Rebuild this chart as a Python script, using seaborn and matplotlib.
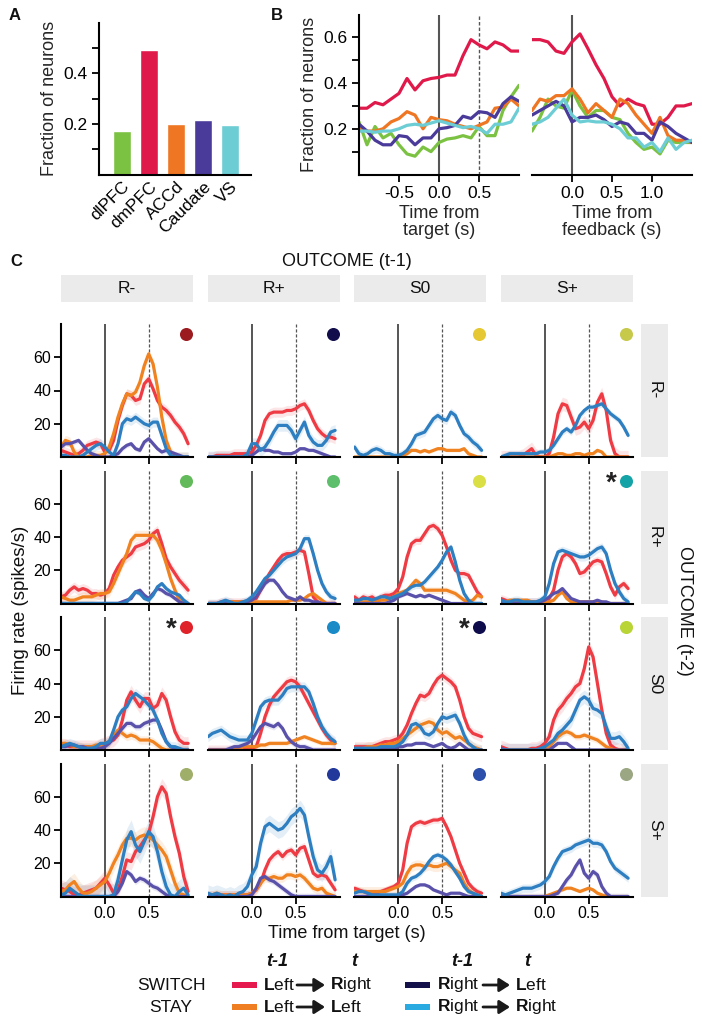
import numpy as np
import matplotlib
matplotlib.use("Agg")
import matplotlib.pyplot as plt
import seaborn as sns
from matplotlib.patches import Rectangle, FancyArrowPatch

# ---------------- DATA ----------------
# Panel A
regions = ["dlPFC", "dmPFC", "ACCd", "Caudate", "VS"]
frac_neurons = [0.17, 0.49, 0.20, 0.215, 0.195]
region_colors = ["#7cc242", "#e0194b", "#ef7622", "#4a3a99", "#6ccdd4"]

# Panel B (0.1 s bins)
t_target = np.round(np.arange(-1.0, 1.001, 0.1), 2)
t_feedback = np.round(np.arange(-0.5, 1.501, 0.1), 2)
tgt_dlPFC = [0.23, 0.13, 0.21, 0.16, 0.18, 0.13, 0.09, 0.08, 0.12, 0.10, 0.14, 0.155, 0.16, 0.17, 0.16, 0.21, 0.17, 0.17, 0.28, 0.34, 0.39]
tgt_dmPFC = [0.29, 0.29, 0.315, 0.305, 0.33, 0.355, 0.42, 0.37, 0.41, 0.42, 0.425, 0.435, 0.435, 0.52, 0.59, 0.567, 0.55, 0.58, 0.567, 0.54, 0.54]
tgt_ACCd = [0.20, 0.19, 0.19, 0.20, 0.23, 0.245, 0.275, 0.26, 0.20, 0.25, 0.24, 0.235, 0.22, 0.21, 0.20, 0.215, 0.23, 0.29, 0.295, 0.33, 0.30]
tgt_Caudate = [0.22, 0.19, 0.15, 0.13, 0.13, 0.17, 0.165, 0.13, 0.16, 0.16, 0.20, 0.205, 0.215, 0.255, 0.245, 0.275, 0.27, 0.25, 0.31, 0.34, 0.32]
tgt_VS = [0.19, 0.19, 0.185, 0.19, 0.19, 0.20, 0.215, 0.22, 0.215, 0.225, 0.235, 0.225, 0.215, 0.205, 0.21, 0.20, 0.18, 0.22, 0.22, 0.23, 0.29]
fb_dlPFC = [0.19, 0.25, 0.33, 0.30, 0.29, 0.37, 0.30, 0.25, 0.28, 0.28, 0.25, 0.24, 0.18, 0.14, 0.11, 0.12, 0.09, 0.15, 0.14, 0.14, 0.14]
fb_dmPFC = [0.59, 0.59, 0.58, 0.54, 0.53, 0.58, 0.615, 0.55, 0.48, 0.42, 0.34, 0.30, 0.33, 0.31, 0.30, 0.22, 0.22, 0.25, 0.30, 0.30, 0.31]
fb_ACCd = [0.28, 0.33, 0.32, 0.345, 0.345, 0.375, 0.33, 0.27, 0.31, 0.28, 0.25, 0.33, 0.31, 0.26, 0.22, 0.18, 0.25, 0.17, 0.15, 0.15, 0.14]
fb_Caudate = [0.26, 0.28, 0.30, 0.32, 0.30, 0.23, 0.25, 0.25, 0.26, 0.24, 0.21, 0.23, 0.22, 0.18, 0.18, 0.15, 0.23, 0.21, 0.18, 0.16, 0.14]
fb_VS = [0.22, 0.23, 0.25, 0.29, 0.33, 0.26, 0.23, 0.235, 0.23, 0.23, 0.22, 0.20, 0.16, 0.16, 0.12, 0.14, 0.10, 0.16, 0.11, 0.14, 0.15]

# Panel C (0.05 s bins from -0.5 to 0.95 s); rows = outcome t-2, cols = outcome t-1
t_grid = np.round(np.arange(-0.5, 0.951, 0.05), 2)
outcome_labels = ["R-", "R+", "S0", "S+"]
# LR: Left->Right (switch), LL: Left->Left (stay), RL: Right->Left (switch), RR: Right->Right (stay)
fr_Rm_Rm_LR = [4,3,2,1,2,4,7,8,9,8,3,4,10,22,31,38,37,34,35,44,47,41,34,30,28,25,21,18,14,8]
fr_Rm_Rm_LL = [6,10,9,3,0,0,0,1,1,1,2,6,14,24,32,38,37,39,45,55,62,56,42,24,10,3,0,0,0,0]
fr_Rm_Rm_RL = [6,8,8,9,10,7,4,2,1,0,0,0,1,2,5,7,8,5,4,9,11,8,5,3,4,3,2,1,0,0]
fr_Rm_Rm_RR = [1,1,0,0,0,1,3,5,7,8,6,3,1,8,20,23,22,24,22,20,19,21,21,13,5,1,0,0,0,0]

fr_Rm_Rp_LR = [0,0,1,1,1,1,2,2,2,2,3,7,13,22,26,27,27,27,28,28,29,31,32,28,22,17,14,12,12,11]
fr_Rm_Rp_LL = None
fr_Rm_Rp_RL = [0,0,0,0,0,0,0,0,0,0,1,3,5,4,4,3,3,2,2,2,3,5,5,4,4,3,2,1,0,0]
fr_Rm_Rp_RR = [0,0,0,0,0,0,0,0,0,2,8,8,4,6,10,15,19,19,19,16,11,16,21,13,9,7,7,10,15,16]

fr_Rm_S0_LR = None
fr_Rm_S0_LL = [0,0,0,0,0,0,0,0,0,0,0,1,2,4,4,3,4,3,4,5,5,4,4,4,4,5,2,1,0,0]
fr_Rm_S0_RL = None
fr_Rm_S0_RR = [6,2,1,2,4,5,4,2,2,1,1,2,4,8,13,14,15,19,23,25,23,22,27,25,19,14,12,9,7,4]

fr_Rm_Sp_LR = [0,0,0,0,0,1,3,5,1,0,0,2,12,26,32,31,24,17,18,21,17,22,33,38,28,10,2,0,0,0]
fr_Rm_Sp_LL = [0,0,0,0,0,0,0,0,0,0,0,0,1,2,2,1,1,2,2,1,2,2,4,3,0,0,0,0,0,0]
fr_Rm_Sp_RL = None
fr_Rm_Sp_RR = [0,1,2,2,2,2,2,2,2,3,3,4,7,11,15,17,15,19,25,28,30,30,31,32,29,26,24,22,18,13]

fr_Rp_Rm_LR = [4,5,8,10,8,9,8,6,6,5,6,9,17,22,26,28,30,34,35,36,38,42,44,36,27,22,18,14,11,8]
fr_Rp_Rm_LL = [4,3,2,2,3,4,4,4,5,6,6,7,12,18,24,30,38,41,41,41,41,41,38,32,24,15,8,2,0,0]
fr_Rp_Rm_RL = [0,0,0,0,0,0,0,0,0,0,0,0,0,0,1,2,3,7,8,5,3,6,9,8,6,5,3,1,0,0]
fr_Rp_Rm_RR = [0,0,0,0,0,0,0,0,0,0,0,0,0,0,0,1,4,7,6,3,2,5,10,12,9,7,6,5,2,0]

fr_Rp_Rp_LR = [0,0,0,1,1,1,1,1,1,1,2,3,8,13,18,22,26,29,30,30,31,32,31,18,4,1,0,0,0,0]
fr_Rp_Rp_LL = [0,0,0,0,1,1,1,1,1,1,1,1,1,1,1,1,1,1,1,2,2,2,3,5,6,4,2,0,0,0]
fr_Rp_Rp_RL = [0,0,0,0,0,0,0,0,0,1,2,4,8,12,14,14,11,7,4,3,2,4,2,2,1,1,0,0,0,0]
fr_Rp_Rp_RR = [0,0,0,1,2,1,0,0,1,2,4,7,11,15,17,20,23,26,28,29,30,33,39,39,30,20,12,7,4,3]

fr_Rp_S0_LR = [4,2,4,3,4,2,4,5,5,6,9,16,28,36,38,38,42,46,47,45,41,34,26,20,18,18,17,12,7,4]
fr_Rp_S0_LL = [1,1,1,1,1,1,2,2,3,4,6,7,8,11,14,12,8,8,8,8,8,8,7,6,4,2,1,2,5,4]
fr_Rp_S0_RL = [0,0,0,0,0,0,0,0,1,2,4,5,6,5,4,5,4,5,4,3,2,1,0,0,0,0,0,0,0,0]
fr_Rp_S0_RR = [2,2,3,3,2,3,4,4,3,4,5,6,8,10,11,11,13,16,19,22,26,31,34,25,14,6,2,0,0,0]

fr_Rp_Sp_LR = [3,2,1,1,1,1,1,1,1,1,1,3,8,20,28,30,28,24,18,19,22,25,26,25,18,10,5,10,12,9]
fr_Rp_Sp_LL = [1,1,2,2,2,2,2,1,1,1,1,1,2,5,7,3,1,1,1,1,1,1,1,1,0,0,0,0,0,0]
fr_Rp_Sp_RL = [0,0,0,0,0,0,0,0,0,1,2,4,6,7,9,6,3,2,1,1,1,1,2,1,1,0,0,0,0,0]
fr_Rp_Sp_RR = [2,1,1,2,2,1,1,1,1,2,4,12,24,31,32,31,30,29,28,28,29,31,33,34,30,20,12,7,3,1]

fr_S0_Rm_LR = [3,3,2,2,2,2,2,2,2,3,4,5,6,9,18,30,35,30,26,31,31,25,27,34,30,20,11,6,4,4]
fr_S0_Rm_LL = [4,4,3,2,2,2,2,2,3,3,4,5,9,12,10,8,9,8,6,6,6,5,3,1,0,0,0,0,0,0]
fr_S0_Rm_RL = [2,2,3,3,2,2,1,1,1,1,2,4,7,10,13,16,16,14,14,16,17,18,18,12,5,2,1,0,0,0]
fr_S0_Rm_RR = [2,3,4,3,2,1,1,1,2,4,4,5,12,20,24,26,31,34,32,30,27,24,18,10,5,2,2,1,0,0]

fr_S0_Rp_LR = [0,0,0,0,0,0,0,0,0,1,1,2,10,20,27,32,35,38,41,42,41,38,33,28,23,18,13,9,6,4]
fr_S0_Rp_LL = [0,0,0,0,0,0,1,1,2,2,2,2,3,3,4,4,4,4,4,5,6,7,8,7,6,5,4,4,4,4]
fr_S0_Rp_RL = [0,0,0,0,0,1,2,2,3,4,6,10,14,16,15,14,16,13,8,5,3,2,2,1,0,0,0,0,0,0]
fr_S0_Rp_RR = [8,10,11,12,10,8,7,6,6,6,10,18,26,29,30,30,30,33,37,38,38,38,38,35,28,20,14,10,7,5]

fr_S0_S0_LR = [2,2,2,2,2,3,4,5,5,6,7,10,15,22,28,33,32,34,39,43,45,43,41,38,30,20,13,10,9,8]
fr_S0_S0_LL = [1,1,1,2,2,2,3,3,4,4,5,7,9,11,13,15,16,17,16,12,10,11,9,7,8,6,4,2,1,0]
fr_S0_S0_RL = [1,1,1,1,1,1,1,1,1,1,2,2,3,3,4,4,4,3,2,3,4,2,1,2,4,2,0,0,0,0]
fr_S0_S0_RR = [1,1,1,1,1,1,2,2,2,2,3,5,9,15,16,14,10,9,11,16,20,19,20,21,16,9,4,2,0,0]

fr_S0_Sp_LR = [2,1,0,0,0,0,0,1,1,2,4,8,18,24,27,31,34,38,40,49,62,56,40,24,10,3,1,0,0,0]
fr_S0_Sp_LL = [0,0,0,0,0,0,0,0,0,0,0,2,5,8,10,11,10,8,8,9,8,7,6,4,2,1,0,0,0,0]
fr_S0_Sp_RL = [1,0,0,0,0,0,0,0,0,0,0,0,2,4,4,4,2,0,0,0,0,0,0,0,0,0,0,0,0,0]
fr_S0_Sp_RR = [0,0,0,0,0,0,0,0,0,1,2,4,6,10,12,15,18,24,30,32,30,25,24,22,14,7,7,8,5,1]

fr_Sp_Rm_LR = [5,4,3,1,1,2,3,4,5,8,11,7,2,4,12,22,21,27,30,34,38,48,60,66,62,48,36,26,12,3]
fr_Sp_Rm_LL = [3,4,7,9,5,2,2,3,5,7,9,14,20,25,31,35,35,34,36,37,36,34,31,28,24,16,8,2,1,0]
fr_Sp_Rm_RL = [0,0,0,0,0,0,0,0,0,0,0,0,0,3,8,15,13,9,11,10,8,6,5,3,1,0,0,0,0,0]
fr_Sp_Rm_RR = [1,2,5,3,1,0,0,0,0,0,0,0,1,10,22,34,39,31,27,33,39,36,27,15,6,1,0,3,5,1]

fr_Sp_Rp_LR = [1,1,1,1,1,1,1,1,1,1,2,4,8,16,22,25,27,24,27,28,25,29,30,22,14,12,13,12,8,4]
fr_Sp_Rp_LL = [1,1,2,1,1,1,1,1,1,1,2,4,8,11,11,12,11,11,13,13,12,13,11,8,5,4,5,2,1,0]
fr_Sp_Rp_RL = [0,0,0,0,0,0,0,0,0,0,1,5,11,12,10,9,7,5,3,1,0,0,0,0,0,0,0,0,0,0]
fr_Sp_Rp_RR = [2,1,2,1,0,1,0,2,3,6,13,18,32,42,44,42,40,41,44,48,50,53,49,36,24,16,14,18,24,10]

fr_Sp_S0_LR = [5,4,3,2,2,2,3,4,5,6,8,16,32,42,44,45,44,45,46,46,47,42,36,28,20,14,8,5,3,2]
fr_Sp_S0_LL = [3,3,3,3,3,3,3,3,4,5,6,8,14,18,19,19,18,19,18,18,19,20,18,16,14,8,4,2,1,0]
fr_Sp_S0_RL = [0,0,0,0,0,0,0,0,0,0,0,1,2,4,6,7,7,6,4,3,2,1,2,2,2,1,0,0,0,0]
fr_Sp_S0_RR = [2,3,3,2,1,1,1,1,1,1,1,3,8,11,12,14,17,21,24,25,24,22,19,15,11,6,3,2,1,0]

fr_Sp_Sp_LR = None
fr_Sp_Sp_LL = [0,0,0,0,0,0,0,0,0,0,0,1,2,3,4,5,5,4,3,4,5,4,2,1,0,0,0,0,0,0]
fr_Sp_Sp_RL = [0,0,0,0,0,0,0,0,0,0,0,0,1,2,6,10,13,18,22,14,11,15,13,6,2,0,0,0,0,0]
fr_Sp_Sp_RR = [2,1,2,3,4,5,5,5,6,7,9,12,18,23,27,28,29,31,32,33,34,32,32,31,27,21,17,15,13,11]

# SEM per panel in order [LR, LL, RL, RR]
sem_Rm = [[3, 3, 1.5, 3], [3, 0, 1, 3.5], [0, 1, 0, 2.5], [4, 1, 0, 2]]
sem_Rp = [[3, 3, 1.5, 1.5], [2.5, 1, 1.5, 2.5], [2.5, 2, 1, 2], [2.5, 1, 1, 2.5]]
sem_S0 = [[4, 2.5, 2, 3], [3, 1.5, 2, 3], [3, 3, 1, 3], [4, 2, 1, 4]]
sem_Sp = [[5, 5, 2, 7], [2.5, 2.5, 2, 5], [2, 3, 1, 2], [0, 1, 2, 2.5]]

# neuron marker colours and significance stars
dot_colors = [["#9b1b1e", "#120d4b", "#e5c833", "#c6c94a"],
              ["#62ba5a", "#5dbf6c", "#dadf45", "#14a3a6"],
              ["#e0232b", "#1a8bc7", "#0f0c4c", "#b8d435"],
              ["#9fae68", "#22389b", "#2b4fab", "#9ba683"]]
stars = [[False, False, False, False],
         [False, False, False, True],
         [True, False, True, False],
         [False, False, False, False]]

line_colors = ["#ee3b44", "#f0821f", "#5a52aa", "#2d7fc1"]
legend_colors = ["#e5194d", "#ef7d22", "#14104a", "#29abe2"]

# ---------------- STYLE ----------------
sns.set_theme(style="ticks")
plt.rcParams['font.family'] = ['Liberation Sans', 'DejaVu Sans']
plt.rcParams['mathtext.fontset'] = 'custom'
plt.rcParams['mathtext.rm'] = 'Liberation Sans'
plt.rcParams['mathtext.bf'] = 'Liberation Sans:bold'
plt.rcParams['mathtext.it'] = 'Liberation Sans:italic'
plt.rcParams['axes.edgecolor'] = 'black'
plt.rcParams['axes.linewidth'] = 1.5
plt.rcParams['xtick.color'] = 'black'
plt.rcParams['ytick.color'] = 'black'
plt.rcParams['text.color'] = '#111111'

W, H = 702, 1025
fig = plt.figure(figsize=(W / 100, H / 100), dpi=100)


def add_ax(l, t, w, h):
    return fig.add_axes([l / W, 1 - (t + h) / H, w / W, h / H])


def ftext(x, y, s, **kw):
    fig.text(x / W, 1 - y / H, s, **kw)


# ---------------- PANEL A ----------------
axA = add_ax(99, 22.5, 152, 152)
sns.barplot(x=regions, y=frac_neurons, hue=regions, palette=region_colors,
            width=0.67, legend=False, ax=axA, saturation=1)
axA.set_xlim(-0.85, 4.78)
axA.set_ylim(0, 0.6)
axA.set_yticks([0.1, 0.2, 0.3, 0.4, 0.5], ['', '0.2', '', '0.4', ''])
axA.set_ylabel("Fraction of neurons", fontsize=13)
axA.set_xlabel("")
axA.tick_params(axis='y', labelsize=12.5, length=5, width=1.3)
axA.tick_params(axis='x', labelsize=12.5, length=0, pad=3)
for lab in axA.get_xticklabels():
    lab.set_rotation(45)
    lab.set_ha('right')
    lab.set_rotation_mode('anchor')
sns.despine(ax=axA)
ftext(15, 15, "A", fontsize=12, fontweight='bold', ha='center', va='center')

# ---------------- PANEL B ----------------
axB1 = add_ax(359, 14.5, 160, 160)
axB2 = add_ax(532, 14.5, 160, 160)
for name, yv in zip(regions, [tgt_dlPFC, tgt_dmPFC, tgt_ACCd, tgt_Caudate, tgt_VS]):
    sns.lineplot(x=t_target, y=yv, ax=axB1, color=region_colors[regions.index(name)], lw=2.3)
for name, yv in zip(regions, [fb_dlPFC, fb_dmPFC, fb_ACCd, fb_Caudate, fb_VS]):
    sns.lineplot(x=t_feedback, y=yv, ax=axB2, color=region_colors[regions.index(name)], lw=2.3)
axB1.axvline(0, color='#555555', lw=1.5, zorder=0)
axB1.axvline(0.5, color='#555555', lw=1.0, ls=(0, (2.5, 1.5)), zorder=0)
axB2.axvline(0, color='#555555', lw=1.5, zorder=0)
axB1.set_xlim(-1, 1)
axB2.set_xlim(-0.5, 1.5)
for ax in (axB1, axB2):
    ax.set_ylim(0, 0.7)
    ax.tick_params(labelsize=12.5, length=5, width=1.3)
axB1.set_yticks([0.1, 0.2, 0.3, 0.4, 0.5, 0.6], ['', '0.2', '', '0.4', '', '0.6'])
axB1.set_xticks([-0.5, 0, 0.5], ['-0.5', '0.0', '0.5'])
axB2.set_xticks([0, 0.5, 1.0], ['0.0', '0.5', '1.0'])
axB2.set_yticks([])
axB1.set_ylabel("Fraction of neurons", fontsize=13)
axB1.set_xlabel("Time from\ntarget (s)", fontsize=13, linespacing=0.95, labelpad=3)
axB2.set_xlabel("Time from\nfeedback (s)", fontsize=13, linespacing=0.95, labelpad=3)
sns.despine(ax=axB1)
sns.despine(ax=axB2, left=True)
ftext(277, 15, "B", fontsize=12, fontweight='bold', ha='center', va='center')

# ---------------- PANEL C ----------------
ftext(16, 261, "C", fontsize=12, fontweight='bold', ha='center', va='center')
ftext(347, 262, "OUTCOME (t-1)", fontsize=13, ha='center', va='center')

col_left = [61, 208, 354.5, 501]
row_top = [324, 470.5, 617, 763.5]
pw, ph = 131.5, 133
keys = ["Rm", "Rp", "S0", "Sp"]
sems = {"Rm": sem_Rm, "Rp": sem_Rp, "S0": sem_S0, "Sp": sem_Sp}
g = globals()

for ci, cl in enumerate(col_left):
    fig.add_artist(Rectangle((cl / W, 1 - 302 / H), pw / W, 27 / H,
                             transform=fig.transFigure, facecolor='#ebebeb', edgecolor='none'))
    ftext(cl + pw / 2, 288.5, outcome_labels[ci], fontsize=12.5, ha='center', va='center')

for ri, rt in enumerate(row_top):
    fig.add_artist(Rectangle((641 / W, 1 - (rt + ph) / H), 27 / W, ph / H,
                             transform=fig.transFigure, facecolor='#ebebeb', edgecolor='none'))
    ftext(654.5, rt + ph / 2, outcome_labels[ri], fontsize=12.5, ha='center', va='center', rotation=270)
    for ci, cl in enumerate(col_left):
        ax = add_ax(cl, rt, pw, ph)
        rk, ck = keys[ri], keys[ci]
        for li, cond in enumerate(["LR", "LL", "RL", "RR"]):
            vals = g[f"fr_{rk}_{ck}_{cond}"]
            if vals is None:
                continue
            v = np.asarray(vals, dtype=float)
            s = sems[rk][ci][li]
            ax.fill_between(t_grid, v - s, v + s, color=line_colors[li], alpha=0.13, lw=0)
            sns.lineplot(x=t_grid, y=v, ax=ax, color=line_colors[li], lw=2.3)
        ax.axvline(0, color='#555555', lw=1.4, zorder=0)
        ax.axvline(0.5, color='#555555', lw=0.9, ls=(0, (2.5, 1.5)), zorder=0)
        ax.set_xlim(-0.5, 1.0)
        ax.set_ylim(0, 80)
        ax.set_xticks([0, 0.5])
        if ri == 3:
            ax.set_xticklabels(['0.0', '0.5'])
        else:
            ax.set_xticklabels([])
        if ci == 0:
            ax.set_yticks([20, 40, 60])
            sns.despine(ax=ax)
        else:
            ax.set_yticks([])
            sns.despine(ax=ax, left=True)
        ax.tick_params(labelsize=11.5, length=5, width=1.3, pad=2)
        ax.scatter([0.948], [0.922], s=88, color=dot_colors[ri][ci], transform=ax.transAxes,
                   clip_on=False, zorder=5, linewidths=0)
        if stars[ri][ci]:
            ax.text(0.835, 0.905, "*", transform=ax.transAxes, fontsize=20, fontweight='bold',
                    ha='center', va='center', color='#222222')

ftext(347, 933, "Time from target (s)", fontsize=13, ha='center', va='center')
ftext(21, 610, "Firing rate (spikes/s)", fontsize=13.5, ha='center', va='center', rotation=90)
ftext(684, 611, "OUTCOME (t-2)", fontsize=13, ha='center', va='center', rotation=270)

# ---------------- LEGEND ----------------
for x, s in [(277, "t-1"), (354, "t"), (462, "t-1"), (527, "t")]:
    ftext(x, 962, s, fontsize=13, fontweight='bold', style='italic', ha='center', va='center')
ftext(171, 986, "SWITCH", fontsize=12.5, ha='center', va='center')
ftext(171, 1008, "STAY", fontsize=12.5, ha='center', va='center')

entries = [  # (swatch x, y, colour index, word1, word1 x, arrow x0, x1, word2 x, word2)
    (232, 985, 0, r"$\mathbf{L}$eft", 263, 297, 325, 330, r"$\mathbf{R}$ight"),
    (232, 1007, 1, r"$\mathbf{L}$eft", 263, 297, 325, 330, r"$\mathbf{L}$eft"),
    (405, 985, 2, r"$\mathbf{R}$ight", 437, 483, 510, 515, r"$\mathbf{L}$eft"),
    (405, 1007, 3, r"$\mathbf{R}$ight", 437, 483, 510, 515, r"$\mathbf{R}$ight"),
]
for sx, sy, cidx, w1, w1x, ax0, ax1, w2x, w2 in entries:
    fig.add_artist(Rectangle((sx / W, 1 - (sy + 3) / H), 25 / W, 6 / H,
                             transform=fig.transFigure, facecolor=legend_colors[cidx], edgecolor='none'))
    ftext(w1x, sy, w1, fontsize=12.5, ha='left', va='center')
    ftext(w2x, sy, w2, fontsize=12.5, ha='left', va='center')
    fig.add_artist(FancyArrowPatch((ax0 / W, 1 - sy / H), (ax1 / W, 1 - sy / H),
                                   transform=fig.transFigure,
                                   arrowstyle='-|>,head_length=0.7,head_width=0.45',
                                   mutation_scale=9, lw=2.0, color='#1a1a1a',
                                   shrinkA=0, shrinkB=0))

fig.savefig("out.png", dpi=100)
